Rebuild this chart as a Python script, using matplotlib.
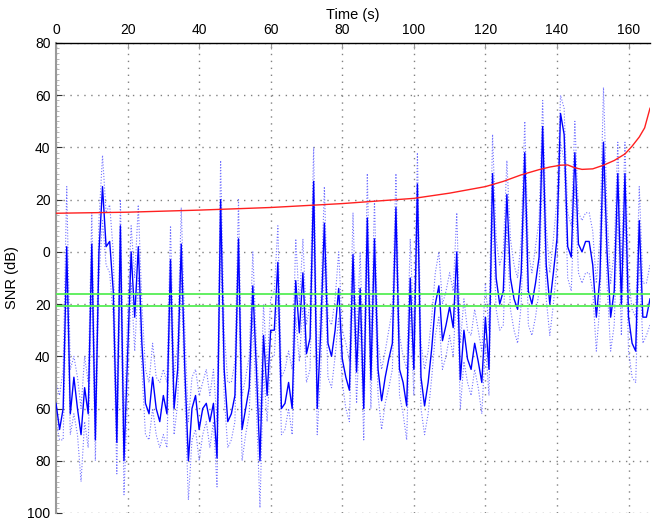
import matplotlib
matplotlib.use("Agg")
import matplotlib.pyplot as plt
from matplotlib.ticker import MultipleLocator, FuncFormatter

# ---------------- data ----------------
time_s = list(range(0, 167))

snr_mean = [
    -58, -68, -60, 2, -62, -48, -60, -70, -52, -62,
    3, -72, 0, 25, 2, 4, -15, -73, 10, -80,
    -40, 0, -25, 2, -35, -58, -62, -48, -60, -65,
    -55, -62, -3, -60, -45, 3, -45, -80, -60, -55,
    -68, -60, -58, -65, -58, -79, 20, -45, -65, -62,
    -55, 5, -68, -60, -52, -13, -45, -80, -32, -55,
    -30, -30, -4, -60, -58, -50, -60, -11, -31, -8,
    -39, -33, 27, -60, -30, 11, -35, -40, -30, -14,
    -41, -48, -53, -1, -46, -14, -60, 13, -49, 5,
    -45, -57, -48, -41, -35, 17, -45, -50, -59, -10,
    -45, 26, -48, -59, -50, -37, -20, -13, -34, -28,
    -21, -29, 0, -49, -30, -41, -45, -35, -42, -50,
    -25, -45, 30, -10, -20, -15, 22, -10, -18, -22,
    -8, 38, -15, -20, -12, -2, 48, -5, -20, -8,
    5, 53, 45, 2, -2, 38, 3, 0, 4, 4,
    -5, -25, -10, 42, 0, -25, -15, 30, -20, 30,
    -25, -35, -38, 12, -25, -25, -18,
]

snr_upper = [
    -50, -55, -45, 25, -45, -40, -48, -60, -40, -50,
    15, -60, 12, 37, 15, 18, 0, -60, 20, -65,
    -25, 10, -10, 18, -20, -45, -50, -35, -48, -50,
    -45, -50, 10, -48, -35, 17, -30, -65, -48, -45,
    -55, -50, -45, -55, -45, -65, 35, -30, -50, -50,
    -42, 20, -55, -48, -40, 0, -35, -65, -20, -45,
    -18, -15, 10, -48, -45, -38, -45, 5, -20, 5,
    -28, -20, 40, -45, -20, 25, -25, -28, -18, 0,
    -30, -35, -42, 15, -35, 0, -48, 30, -38, 20,
    -35, -45, -38, -30, -22, 30, -32, -40, -45, 5,
    -32, 38, -35, -45, -38, -25, -8, 0, -20, -15,
    -8, -15, 15, -35, -18, -30, -32, -22, -30, -38,
    -12, -30, 45, 5, -5, 0, 35, 5, -5, -10,
    5, 50, 0, -8, 2, 12, 58, 10, -8, 5,
    20, 60, 55, 15, 10, 50, 15, 12, 15, 15,
    8, -12, 5, 63, 15, -12, 0, 42, -5, 42,
    -10, -22, -25, 25, -12, -12, -5,
]

snr_lower = [
    -65, -72, -72, -10, -70, -62, -70, -88, -65, -75,
    -10, -80, -10, 12, -5, -8, -25, -85, -5, -93,
    -55, -12, -38, -10, -45, -70, -72, -60, -70, -75,
    -70, -75, -15, -70, -58, -10, -55, -95, -72, -68,
    -80, -70, -65, -75, -65, -90, 5, -55, -75, -72,
    -65, -5, -80, -70, -62, -25, -60, -98, -45, -65,
    -40, -40, -15, -70, -68, -60, -70, -25, -42, -20,
    -50, -45, 12, -70, -45, -2, -48, -52, -40, -25,
    -50, -60, -65, -12, -58, -25, -72, 0, -60, -8,
    -55, -68, -58, -52, -45, 5, -55, -62, -72, -22,
    -55, 15, -60, -70, -62, -48, -32, -25, -45, -40,
    -32, -40, -12, -60, -42, -50, -55, -45, -52, -62,
    -35, -55, 15, -22, -30, -28, 10, -22, -30, -35,
    -20, 25, -28, -32, -25, -15, 35, -18, -32, -20,
    -5, 42, 35, -10, -15, 25, -8, -12, -8, -8,
    -15, -38, -20, 30, -12, -38, -28, 15, -32, 15,
    -38, -48, -50, -2, -35, -32, -28,
]

threshold_t = [0, 20, 40, 60, 80, 100, 110, 120, 125, 130, 135, 138, 141,
               143, 145, 147, 150, 153, 156, 159, 161, 163, 164.5, 166]
threshold_v = [14.8, 15.2, 16.0, 17.0, 18.5, 20.5, 22.5, 25.0, 27.0, 29.5,
               31.5, 32.5, 33.2, 33.3, 32.2, 31.6, 31.8, 33.2, 35.0, 37.5,
               40.5, 44.0, 47.5, 55.0]

green_levels = [-16.0, -20.8]

x_ticks = [0, 20, 40, 60, 80, 100, 120, 140, 160]
y_ticks = [-100, -80, -60, -40, -20, 0, 20, 40, 60, 80]

# ---------------- figure ----------------
plt.rcParams['font.family'] = ['Liberation Sans', 'DejaVu Sans']
fig = plt.figure(figsize=(6.57, 5.28), dpi=100)
ax = fig.add_axes([56 / 657, 15 / 528, (650 - 56) / 657, (513 - 43) / 528])

dot_style = (0, (1, 1.6))
ax.plot(time_s, snr_upper, color='#5a5aff', linestyle=dot_style, linewidth=0.8,
        alpha=0.85, zorder=2)
ax.plot(time_s, snr_lower, color='#5a5aff', linestyle=dot_style, linewidth=0.8,
        alpha=0.85, zorder=2)
ax.plot(time_s, snr_mean, color='#0000ff', linewidth=1.0, zorder=3)
ax.plot(threshold_t, threshold_v, color='#ff2020', linewidth=1.0, zorder=4)
for g in green_levels:
    ax.axhline(g, color='#55ee55', linewidth=1.3, zorder=4)

ax.set_xlim(0, 166)
ax.set_ylim(-100, 80)
ax.set_xticks(x_ticks)
ax.set_yticks(y_ticks)
ax.yaxis.set_minor_locator(MultipleLocator(2))
ax.yaxis.set_major_formatter(FuncFormatter(lambda v, p: f"{abs(int(v))}"))

ax.xaxis.tick_top()
ax.xaxis.set_label_position('top')
ax.tick_params(axis='x', which='major', direction='in', length=4, color='#999999',
               labelsize=10, pad=4)
ax.tick_params(axis='y', which='major', direction='in', length=4, color='#333333',
               labelsize=10, pad=4)
ax.tick_params(axis='y', which='minor', direction='in', length=2.5, color='#aaaaaa')

ax.grid(True, which='major', linestyle=(0, (1, 4)), color='#808080', linewidth=1.0)

for side in ('right', 'bottom'):
    ax.spines[side].set_visible(False)
ax.spines['left'].set_color('#999999')
ax.spines['left'].set_linewidth(1.5)
ax.spines['top'].set_color('#000000')
ax.spines['top'].set_linewidth(1.0)

ax.set_xlabel('Time (s)', fontsize=10.5, labelpad=3)
ax.set_ylabel('SNR (dB)', fontsize=10.5, labelpad=6)

fig.savefig('out.png', dpi=100)
